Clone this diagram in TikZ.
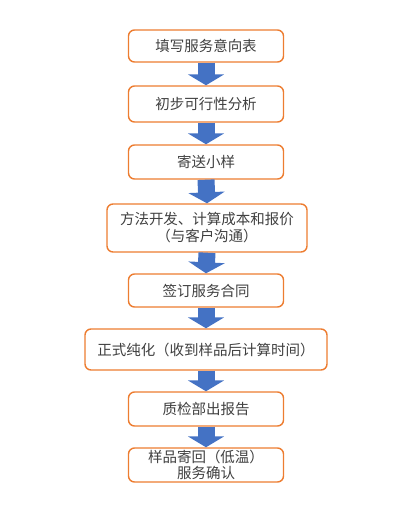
\documentclass[tikz,border=0pt]{standalone}
\usepackage{fontspec}
\setmainfont{Noto Sans CJK SC}
\usepackage{xcolor}
\usepackage{tikz}
\usetikzlibrary{positioning,arrows.meta}
\definecolor{boxorange}{HTML}{ED7D31}
\definecolor{arrowblue}{HTML}{4472C4}
\definecolor{textgray}{HTML}{404040}

\begin{document}
\begin{tikzpicture}[%
  x=1pt, y=-1pt,
  stepbox/.style={draw=boxorange, line width=1.4pt, rounded corners=6pt,
    fill=white, text=textgray, align=center,
    font=\fontsize{14.5}{17}\selectfont, inner sep=0pt,
    minimum width=155pt, minimum height=34pt},
  flow/.style={arrowblue, line width=17pt,
    -{Triangle[width=36pt,length=11pt]}}]
  \useasboundingbox (0,0) rectangle (416,507);
  \node[stepbox, minimum height=32pt] (form) at (206,46) {填写服务意向表};
  \node[stepbox, minimum height=36pt] (feasible) at (206,104) {初步可行性分析};
  \node[stepbox] (sample) at (206,162) {寄送小样};
  \node[stepbox, minimum width=200pt, minimum height=48pt] (method) at (207,228)
    {方法开发、计算成本和报价\\（与客户沟通）};
  \node[stepbox, minimum height=33pt] (contract) at (206,290.5) {签订服务合同};
  \node[stepbox, minimum width=242pt, minimum height=41pt] (purify) at (206,349.5)
    {正式纯化（收到样品后计算时间）};
  \node[stepbox] (report) at (206,409) {质检部出报告};
  \node[stepbox, font=\fontsize{14.5}{16}\selectfont] (back) at (206,465)
    {样品寄回（低温）\\服务确认};
  \draw[flow] (form.south) -- (feasible.north);
  \draw[flow] (feasible.south) -- (sample.north);
  \draw[flow] (sample.south) -- (method.north);
  \draw[flow] (method.south) -- (contract.north);
  \draw[flow] (contract.south) -- (purify.north);
  \draw[flow] (purify.south) -- (report.north);
  \draw[flow] (report.south) -- (back.north);
\end{tikzpicture}
\end{document}
